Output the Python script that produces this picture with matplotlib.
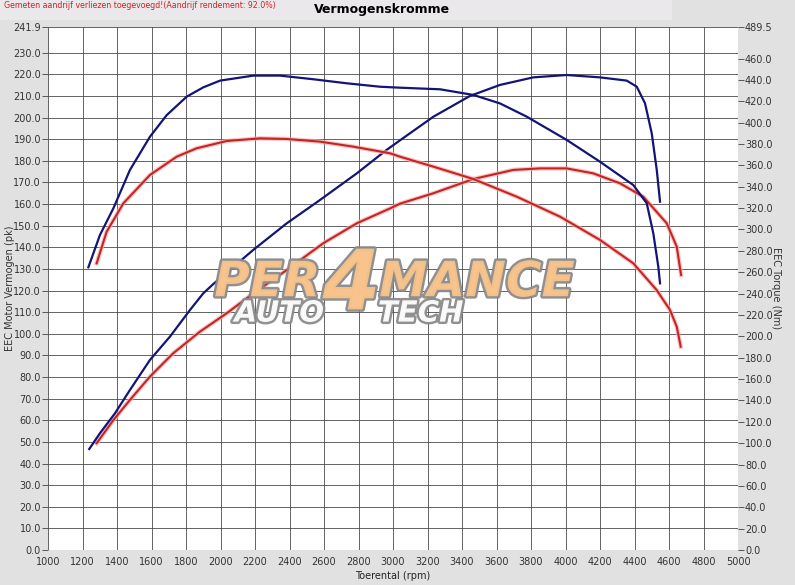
import matplotlib
matplotlib.use("Agg")
import matplotlib.pyplot as plt
import matplotlib.patheffects as pe
from matplotlib.patches import Rectangle

# torque curves (Nm, right axis)
tq_tuned_rpm = [1234, 1301, 1379, 1475, 1591, 1688, 1804, 1900, 1997, 2190, 2345, 2538, 2732, 2925,
                3041, 3273, 3466, 3620, 3775, 4007, 4200, 4393, 4471, 4509, 4538, 4548]
tq_tuned = [264.6, 294.8, 319.8, 355.7, 386.8, 407.0, 424.3, 433.0, 439.3, 444.0, 444.0, 440.6, 436.8, 433.6,
            432.7, 431.2, 425.9, 418.0, 405.6, 383.8, 363.4, 341.6, 324.5, 296.4, 265.2, 249.6]
tq_stock_rpm = [1282, 1340, 1437, 1591, 1746, 1862, 2036, 2229, 2384, 2577, 2770, 2983, 3041,
                3234, 3466, 3717, 3968, 4200, 4393, 4528, 4606, 4645, 4668]
tq_stock = [268.3, 297.9, 324.5, 351.0, 368.1, 376.0, 382.8, 385.3, 384.7, 382.2, 377.5, 371.3, 368.1,
            358.8, 347.2, 330.7, 312.0, 290.2, 268.3, 243.4, 224.6, 209.0, 190.3]

# power curves (pk, left axis)
pw_tuned_rpm = [1239, 1301, 1388, 1475, 1591, 1707, 1823, 1900, 1958, 2190, 2384, 2577, 2790, 2962,
                3041, 3234, 3446, 3620, 3813, 4007, 4200, 4355, 4413, 4461, 4500, 4529, 4548]
pw_tuned = [46.7, 54.0, 63.2, 74.0, 87.9, 98.7, 111.0, 118.7, 123.0, 138.8, 151.1, 161.9, 174.2, 185.0,
            189.5, 200.4, 210.0, 215.1, 218.6, 219.7, 218.6, 217.1, 214.3, 206.6, 192.7, 175.8, 161.1]
pw_stock_rpm = [1282, 1379, 1475, 1591, 1726, 1881, 2036, 2190, 2384, 2596, 2790, 2983, 3041, 3234,
                3466, 3698, 3852, 4007, 4161, 4316, 4451, 4587, 4645, 4670]
pw_stock = [49.4, 60.1, 69.4, 80.2, 91.0, 101.0, 109.5, 118.7, 129.5, 141.9, 151.1, 158.0, 160.2, 165.0,
            171.6, 175.8, 176.5, 176.5, 174.2, 169.6, 163.4, 151.1, 140.3, 127.2]

left_ticks = [i * 10 for i in range(24)] + [241.9]
right_ticks = [i * 20 for i in range(24)] + [489.5]
x_ticks = list(range(1000, 5001, 200))

BLUE = "#141478"
RED = "#c82323"
BG = "#e1e1e1"

fig = plt.figure(figsize=(7.95, 5.85), dpi=100, facecolor=BG)
fig.patches.append(Rectangle((0, 1 - 20 / 585), 672 / 795, 20 / 585, transform=fig.transFigure,
                             facecolor="#ebe8eb", edgecolor="none", zorder=0))

ax = fig.add_axes([48 / 795, 35 / 585, 690 / 795, 523 / 585])
ax.set_facecolor("white")
ax.set_xlim(1000, 5000)
ax.set_ylim(0, 241.9)
ax.set_xticks(x_ticks)
ax.set_yticks(left_ticks)
ax.set_yticklabels(["%.1f" % v for v in left_ticks])
ax.grid(True, color="#4a4a4a", lw=0.6)
ax.set_axisbelow(True)
for s in ax.spines.values():
    s.set_visible(False)
ax.tick_params(axis="y", length=4, width=0.7, color="#555555", labelsize=7, labelcolor="#333333", pad=1)
ax.tick_params(axis="x", length=0, labelsize=7, labelcolor="#333333", pad=5)

ax2 = ax.twinx()
ax2.set_ylim(0, 489.5)
ax2.set_yticks(right_ticks)
ax2.set_yticklabels(["%.1f" % v for v in right_ticks])
for s in ax2.spines.values():
    s.set_visible(False)
ax2.tick_params(axis="y", length=4, width=0.7, color="#555555", labelsize=7, labelcolor="#333333", pad=1)

fig.text(393 / 795, 1 - 576 / 585, "Toerental (rpm)", fontsize=7, color="#222222", ha="center", va="center")
fig.text(10 / 795, 1 - 288 / 585, "EEC Motor Vermogen (pk)", fontsize=7, color="#333333",
         rotation=90, ha="center", va="center")
fig.text(776 / 795, 1 - 288 / 585, "EEC Torque (Nm)", fontsize=7, color="#333333",
         rotation=270, ha="center", va="center")

halo = [pe.Stroke(linewidth=3.2, foreground="#f2b0b0", alpha=0.7), pe.Normal()]
ax.plot(pw_stock_rpm, pw_stock, color=RED, lw=1.5, path_effects=halo, zorder=3)
ax2.plot(tq_stock_rpm, tq_stock, color=RED, lw=1.5, path_effects=halo, zorder=3)
ax.plot(pw_tuned_rpm, pw_tuned, color=BLUE, lw=1.6, zorder=4)
ax2.plot(tq_tuned_rpm, tq_tuned, color=BLUE, lw=1.6, zorder=4)

# logo watermark
outline = [pe.withStroke(linewidth=3.5, foreground="#8a8a8a")]
logo = dict(transform=ax.transAxes, fontweight="bold", style="italic", color="#f8c48c",
            va="center", path_effects=outline, alpha=0.95, zorder=6)
ax2.text(0.395, 0.512, "PER", fontsize=35, ha="right", **logo)
ax2.text(0.44, 0.505, "4", fontsize=60, ha="center", **logo)
ax2.text(0.48, 0.512, "MANCE", fontsize=35, ha="left", **logo)
ax2.text(0.335, 0.452, "AUTO", fontsize=21, ha="center", **dict(logo, color="white"))
ax2.text(0.54, 0.452, "TECH", fontsize=21, ha="center", **dict(logo, color="white"))

fig.text(4 / 795, 1 - 5 / 585, "Gemeten aandrijf verliezen toegevoegd!(Aandrijf rendement: 92.0%)",
         fontsize=5.7, color="#d42020", ha="left", va="center")
fig.text(382 / 795, 1 - 9 / 585, "Vermogenskromme", fontsize=9, fontweight="bold",
         color="black", ha="center", va="center")

fig.savefig("out.png", dpi=100, facecolor=BG)
